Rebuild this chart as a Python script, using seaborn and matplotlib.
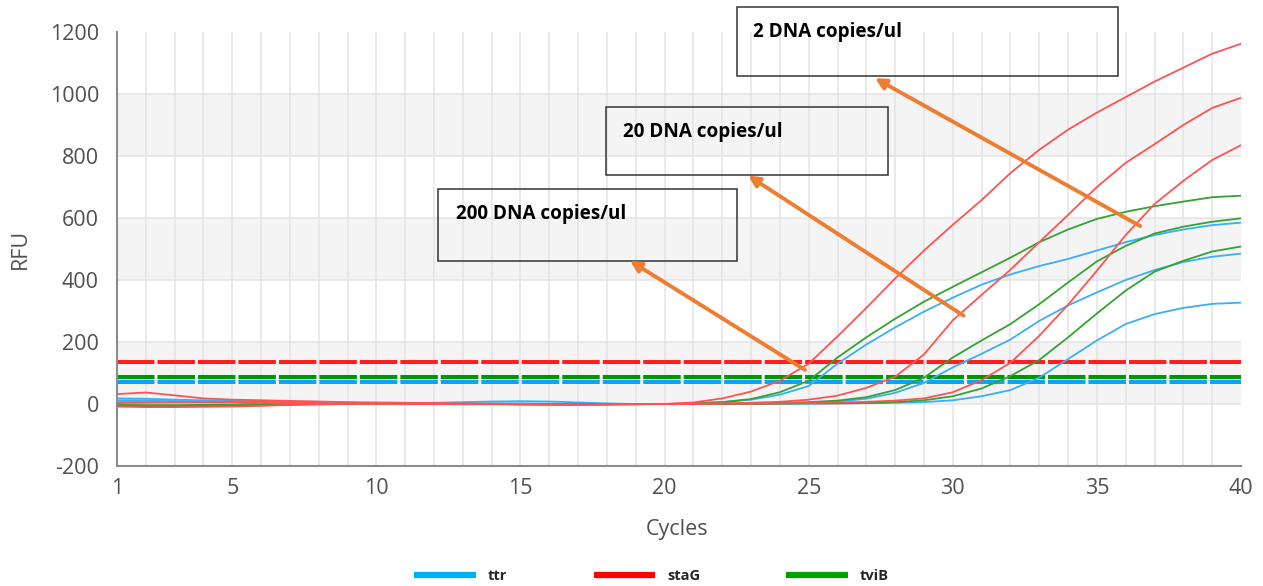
import matplotlib
matplotlib.use("Agg")
import matplotlib.pyplot as plt
from matplotlib.lines import Line2D
from matplotlib.patches import Rectangle
import pandas as pd
import seaborn as sns

# ---- amplification data (RFU per cycle) ----
cycles = list(range(1, 41))

ttr_200 = [18, 17, 14, 12, 10, 8, 6, 5, 4, 3, 3, 4, 6, 8, 9, 8, 5, 2, 0, 0,
           2, 6, 14, 30, 58, 130, 192, 247, 298, 343, 385, 418, 445, 468, 495, 522, 545, 563, 577, 585]
ttr_20 = [12, 12, 10, 8, 6, 5, 4, 3, 2, 2, 1, 1, 1, 2, 2, 1, 0, 0, 0, 0,
          0, 1, 1, 2, 4, 8, 17, 36, 68, 118, 162, 208, 268, 318, 360, 400, 432, 458, 475, 485]
ttr_2 = [8, 7, 6, 5, 4, 3, 2, 2, 1, 1, 1, 1, 0, 0, 0, 0, 0, 0, 0, 0,
         0, 0, 0, 1, 1, 2, 3, 4, 6, 12, 25, 45, 85, 145, 205, 258, 290, 310, 323, 327]

staG_200 = [32, 37, 28, 18, 14, 12, 10, 8, 6, 5, 4, 3, 2, 1, 0, -1, -2, -2, -1, 0,
            5, 18, 40, 75, 130, 218, 310, 405, 495, 578, 658, 745, 820, 885, 940, 990, 1040, 1085, 1130, 1162]
staG_20 = [3, 4, 5, 6, 6, 5, 4, 3, 2, 2, 1, 1, 0, 0, -1, -2, -2, -1, 0, 0,
           1, 2, 4, 7, 14, 27, 52, 88, 160, 270, 352, 433, 522, 610, 700, 778, 838, 900, 955, 988]
staG_2 = [-8, -10, -10, -9, -8, -6, -3, -1, 0, 0, 0, 0, -1, -1, -2, -3, -3, -2, -1, 0,
          0, 1, 1, 2, 3, 5, 7, 11, 18, 38, 77, 133, 220, 320, 430, 545, 645, 720, 787, 835]

tviB_200 = [-4, -5, -5, -4, -3, -2, -1, 0, 0, 0, 0, 0, 0, 0, 0, 0, 0, 0, 0, 0,
            2, 6, 16, 38, 75, 150, 215, 275, 330, 378, 425, 472, 522, 563, 597, 620, 638, 653, 667, 672]
tviB_20 = [-3, -4, -4, -3, -3, -2, -1, 0, 0, 0, 0, 0, 0, 0, 0, 0, 0, 0, 0, 0,
           0, 1, 2, 3, 6, 11, 22, 45, 85, 150, 205, 258, 322, 392, 460, 510, 550, 572, 588, 599]
tviB_2 = [-6, -7, -7, -6, -5, -4, -2, -1, 0, 0, 0, 0, 0, 0, 0, 0, 0, 0, 0, 0,
          0, 0, 1, 1, 2, 2, 3, 6, 12, 25, 50, 90, 142, 215, 292, 366, 427, 462, 492, 508]

targets = ["ttr", "staG", "tviB"]
threshold_ttr = 72
threshold_staG = 135
threshold_tviB = 88

x_ticks = [1, 5, 10, 15, 20, 25, 30, 35, 40]
y_ticks = [-200, 0, 200, 400, 600, 800, 1000, 1200]

concentration_labels = ["200 DNA copies/ul", "20 DNA copies/ul", "2 DNA copies/ul"]

# ---- long-form table for seaborn ----
series = {
    ("ttr", "200"): ttr_200, ("ttr", "20"): ttr_20, ("ttr", "2"): ttr_2,
    ("staG", "200"): staG_200, ("staG", "20"): staG_20, ("staG", "2"): staG_2,
    ("tviB", "200"): tviB_200, ("tviB", "20"): tviB_20, ("tviB", "2"): tviB_2,
}
rows = []
for (target, conc), values in series.items():
    for c, v in zip(cycles, values):
        rows.append({"Target": target, "Well": f"{target}_{conc}", "Cycle": c, "RFU": v})
df = pd.DataFrame(rows)

# ---- styling ----
sns.set_theme(style="white")
plt.rcParams["font.family"] = ["Open Sans", "DejaVu Sans"]
plt.rcParams["axes.unicode_minus"] = False

curve_colors = {"ttr": "#3AAEF7", "staG": "#FF5353", "tviB": "#33A333"}
threshold_colors = {"ttr": "#0EA2FF", "staG": "#FF1F1F", "tviB": "#009600"}
legend_colors = {"ttr": "#00B0F0", "staG": "#FF0000", "tviB": "#00A000"}
arrow_color = "#ED7D31"
tick_color = "#505050"
spine_color = "#8C8C8C"
bold_family = ["Open Sans", "DejaVu Sans"]

fig = plt.figure(figsize=(12.63, 5.86), dpi=100)
ax = fig.add_axes([117 / 1263, 1 - 466 / 586, (1241 - 117) / 1263, (466 - 32) / 586])

ax.set_xlim(1, 40)
ax.set_ylim(-200, 1200)

# alternating shaded bands between major y gridlines
for lo in (0, 400, 800):
    ax.axhspan(lo, lo + 200, color="#F4F4F4", zorder=0, lw=0)

# grid: every cycle vertically, every 200 RFU horizontally
for c in cycles[1:-1]:
    ax.axvline(c, color="#E4E4E4", lw=1.1, zorder=0.5)
for y in y_ticks[1:-1]:
    ax.axhline(y, color="#E4E4E4", lw=1.1, zorder=0.5)

# threshold lines
for target, thr in zip(targets, [threshold_ttr, threshold_staG, threshold_tviB]):
    ax.axhline(thr, color=threshold_colors[target], lw=2.9, dashes=(9.3, 0.75), zorder=2)

# amplification curves
sns.lineplot(data=df, x="Cycle", y="RFU", hue="Target", units="Well", estimator=None,
             hue_order=["ttr", "tviB", "staG"], palette=curve_colors, lw=1.3,
             legend=False, ax=ax, zorder=3)

# axes look
ax.set_xticks(x_ticks)
ax.set_yticks(y_ticks)
ax.tick_params(axis="both", colors=spine_color, labelcolor=tick_color, labelsize=15.5,
               direction="out", width=1.3)
ax.tick_params(axis="y", length=7, pad=6)
ax.tick_params(axis="x", length=6, pad=3)
for side in ("top", "right"):
    ax.spines[side].set_visible(False)
for side in ("left", "bottom"):
    ax.spines[side].set_color(spine_color)
    ax.spines[side].set_linewidth(1.5)
ax.grid(False)

ax.set_xlabel("Cycles", fontsize=15.5, color=tick_color)
ax.set_ylabel("RFU", fontsize=15.5, color=tick_color)
ax.xaxis.set_label_coords(0.498, -0.122)
ax.yaxis.set_label_coords(-0.0765, 0.5)

# concentration call-outs: box, label and arrow to the curve group
boxes = [
    (12.15, 462, 22.50, 693),
    (17.96, 739, 27.76, 957),
    (22.50, 1058, 35.74, 1280),
]
label_pos = [(12.76, 596), (18.55, 861), (23.08, 1183)]
arrow_tail = [(24.87, 110), (30.37, 285), (36.50, 574)]
arrow_head = [(18.80, 462), (22.90, 737), (27.30, 1051)]

for (x0, y0, x1, y1), (tx, ty), tail, head, label in zip(
        boxes, label_pos, arrow_tail, arrow_head, concentration_labels):
    ax.add_patch(Rectangle((x0, y0), x1 - x0, y1 - y0, fill=False, ec="#333333",
                           lw=1.1, zorder=5, clip_on=False))
    ax.text(tx, ty, label, fontsize=13.6, fontweight="bold", family=bold_family,
            color="black", va="baseline", ha="left", zorder=6, clip_on=False)
    ax.annotate("", xy=head, xytext=tail,
                arrowprops=dict(arrowstyle="-|>", color=arrow_color, lw=2.8,
                                mutation_scale=16, shrinkA=0, shrinkB=0),
                zorder=6, annotation_clip=False)

# legend at the bottom
handles = [Line2D([], [], color=legend_colors[t], lw=4.5, solid_capstyle="butt") for t in targets]
leg = fig.legend(handles, targets, loc="center", bbox_to_anchor=(0.516, 0.017), ncol=3,
                 frameon=False, handlelength=4.2, handletextpad=0.85, columnspacing=5.9,
                 prop={"family": bold_family, "weight": "bold", "size": 10.5})

fig.savefig("out.png", dpi=100)
